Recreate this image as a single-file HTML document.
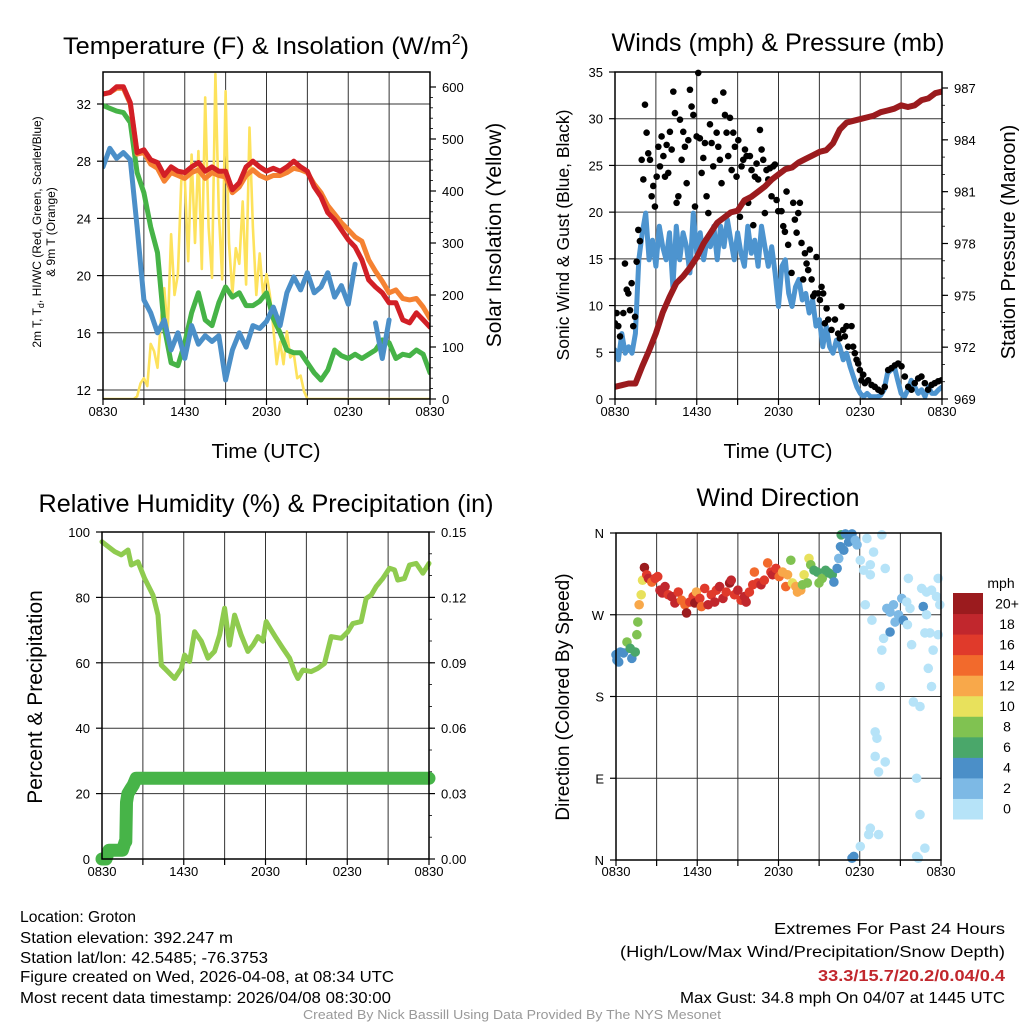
<!DOCTYPE html>
<html><head><meta charset="utf-8"><style>
html,body{margin:0;padding:0;background:#fff;}
svg{display:block;font-family:"Liberation Sans",Arial,sans-serif;}
</style></head><body>
<svg id="fig" width="1024" height="1024" viewBox="0 0 1024 1024" xmlns="http://www.w3.org/2000/svg">
<rect width="1024" height="1024" fill="#fff"/>
<g id="layer"></g>
<text x="266" y="54" font-size="24" text-anchor="middle" textLength="406" lengthAdjust="spacingAndGlyphs">Temperature (F) &amp; Insolation (W/m<tspan dy="-10" font-size="15">2</tspan><tspan dy="10">)</tspan></text>
<text x="778" y="51" font-size="25" text-anchor="middle" textLength="333" lengthAdjust="spacingAndGlyphs">Winds (mph) &amp; Pressure (mb)</text>
<text x="266" y="512" font-size="25" text-anchor="middle" textLength="455" lengthAdjust="spacingAndGlyphs">Relative Humidity (%) &amp; Precipitation (in)</text>
<text x="778" y="506" font-size="25" text-anchor="middle" textLength="163" lengthAdjust="spacingAndGlyphs">Wind Direction</text>
<text x="266" y="458" font-size="20" text-anchor="middle" textLength="109" lengthAdjust="spacingAndGlyphs">Time (UTC)</text>
<text x="778" y="458" font-size="20" text-anchor="middle" textLength="109" lengthAdjust="spacingAndGlyphs">Time (UTC)</text>
<text transform="translate(41,232) rotate(-90)" font-size="12" text-anchor="middle">2m T, T<tspan dy="3" font-size="9">d</tspan><tspan dy="-3">, HI/WC (Red, Green, Scarlet/Blue)</tspan></text>
<text transform="translate(55,232) rotate(-90)" font-size="12" text-anchor="middle">&amp; 9m T (Orange)</text>
<text transform="translate(501,235) rotate(-90)" font-size="21" text-anchor="middle">Solar Insolation (Yellow)</text>
<text transform="translate(569,235) rotate(-90)" font-size="17.5" text-anchor="middle">Sonic Wind &amp; Gust (Blue, Black)</text>
<text transform="translate(1015,242) rotate(-90)" font-size="20" text-anchor="middle">Station Pressure (Maroon)</text>
<text transform="translate(42,697) rotate(-90)" font-size="21" text-anchor="middle">Percent &amp; Precipitation</text>
<text transform="translate(569,697) rotate(-90)" font-size="19" text-anchor="middle">Direction (Colored By Speed)</text>
<g font-size="16">
<text x="20" y="922" textLength="116" lengthAdjust="spacingAndGlyphs">Location: Groton</text>
<text x="20" y="943" textLength="213" lengthAdjust="spacingAndGlyphs">Station elevation: 392.247 m</text>
<text x="20" y="963" textLength="248" lengthAdjust="spacingAndGlyphs">Station lat/lon: 42.5485; -76.3753</text>
<text x="20" y="982" textLength="374" lengthAdjust="spacingAndGlyphs">Figure created on Wed, 2026-04-08, at 08:34 UTC</text>
<text x="20" y="1003" textLength="371" lengthAdjust="spacingAndGlyphs">Most recent data timestamp: 2026/04/08 08:30:00</text>
</g>
<g font-size="16">
<text x="774" y="934" textLength="231" lengthAdjust="spacingAndGlyphs">Extremes For Past 24 Hours</text>
<text x="620" y="957" textLength="385" lengthAdjust="spacingAndGlyphs">(High/Low/Max Wind/Precipitation/Snow Depth)</text>
<text x="818" y="981" textLength="187" lengthAdjust="spacingAndGlyphs" fill="#c1272d" font-weight="bold">33.3/15.7/20.2/0.04/0.4</text>
<text x="680" y="1003" textLength="325" lengthAdjust="spacingAndGlyphs">Max Gust: 34.8 mph On 04/07 at 1445 UTC</text>
</g>
<text x="303" y="1019" font-size="13" fill="#999" textLength="418" lengthAdjust="spacingAndGlyphs">Created By Nick Bassill Using Data Provided By The NYS Mesonet</text>
</svg>
<script>
// ---------- DATA ----------
const timeTickLabels = ["0830","1430","2030","0230","0830"];
const tempTicks = [12,16,20,24,28,32];
const solarTicks = [0,100,200,300,400,500,600];
const windTicks = [0,5,10,15,20,25,30,35];
const pressureTicks = [969,972,975,978,981,984,987];
const rhTicks = [0,20,40,60,80,100];
const precipTicks = ["0.00","0.03","0.06","0.09","0.12","0.15"];
const dirTickLabels = ["N","W","S","E","N"];
const speedBinLabels = ["0","2","4","6","8","10","12","14","16","18","20+"];
const speedBinColors = ["#b6e3f8","#7db9e5","#4b8fc8","#4aa76a","#80c251","#e8e15c","#f8a84a","#f26a2c","#e03a2b","#c1272d","#9b1b1e"];

const tempRed = [32.7,32.8,33.2,33.2,32.1,28.6,28.8,28.1,27.9,27.0,27.6,27.3,27.2,27.6,27.9,27.3,27.6,27.3,27.3,26.0,26.5,27.6,28.0,27.6,27.3,27.5,27.3,27.6,28.0,27.6,27.3,26.2,25.5,24.4,23.9,23.2,22.5,22.0,21.1,19.7,19.2,18.8,18.1,18.1,16.9,16.7,17.4,16.9,16.4];
const tempOrange = [32.7,32.8,33.1,33.1,32.0,28.5,28.6,27.8,27.5,26.6,27.2,27.0,26.8,27.2,27.4,26.8,27.2,27.0,26.9,25.8,26.2,27.0,27.4,27.0,26.8,27.0,27.0,27.2,27.5,27.4,27.2,26.4,25.8,24.9,24.3,23.7,23.2,22.7,22.4,21.1,20.3,19.6,18.8,19.0,18.4,18.3,18.4,17.8,17.0];
const dewGreen = [31.9,31.7,31.5,31.4,30.7,27.2,25.8,23.4,21.6,16.4,13.9,13.7,15.3,17.4,18.8,16.9,16.5,18.1,19.2,18.5,18.8,17.9,17.9,18.2,18.8,17.0,16.0,14.8,14.6,14.6,13.9,13.2,12.7,13.4,14.8,14.4,14.2,14.5,14.2,14.5,14.8,15.5,15.3,14.2,14.5,14.4,14.8,14.5,13.2];
const windChillBlue = [27.6,28.9,28.2,28.6,28.1,23.4,18.3,17.4,16.0,16.9,14.8,16.0,14.2,16.5,15.2,15.8,15.4,15.8,12.7,14.8,16.0,15.0,16.5,16.3,16.8,17.8,16.5,18.8,19.9,19.0,20.2,18.8,19.2,20.2,18.5,19.3,18.0,20.8,null,null,16.7,14.2,16.9,null,null,null,null,null,null];
const solarYellow = [0,0,0,0,0,0,0,0,0,0,5,30,40,25,106,92,60,150,213,130,317,200,240,420,425,265,470,300,477,250,580,330,233,625,360,230,592,300,202,290,260,380,220,522,330,200,280,200,240,200,137,67,110,67,130,80,87,40,45,15,0,0,0,0,0,0,0,0,0,0,0,0,0,0,0,0,0,0,0,0,0,0,0,0,0,0,0,0,0,0,0,0,0,0,0,0,0];

const windBlue = [5.25,4.2,7.0,4.9,5.6,4.9,7.0,14.9,17.8,19.9,14.9,17.0,14.2,18.5,16.3,14.9,17.8,12.0,18.5,14.9,17.8,16.3,13.5,19.9,15.6,17.8,14.9,17.0,16.3,18.5,14.9,18.5,16.3,19.2,17.0,14.9,17.8,15.6,14.2,18.5,15.6,17.0,14.2,18.5,16.3,14.2,16.3,13.5,9.9,14.2,14.9,11.3,9.9,12.0,12.8,10.6,11.3,9.2,10.6,7.8,8.5,5.6,7.8,5.6,4.9,6.3,5.6,4.2,4.9,3.5,2.4,1.3,0.6,0.25,0.6,0.25,0.25,0.25,0.4,1.0,2.75,3.1,3.5,2.0,0.6,0.25,1.0,2.0,1.3,0.6,1.0,0.25,1.3,0.6,0.6,1.0,1.3];
const gustHours = [0,0.12,0.24,0.37,0.61,0.73,0.86,0.98,1.10,1.22,1.34,1.47,1.59,1.71,1.83,1.96,2.08,2.20,2.32,2.44,2.57,2.69,2.81,2.93,3.06,3.18,3.30,3.42,3.55,3.67,3.79,3.91,4.03,4.16,4.28,4.40,4.52,4.65,4.77,4.89,5.01,5.13,5.26,5.38,5.50,5.62,5.75,5.87,5.99,6.11,6.23,6.36,6.48,6.60,6.72,6.85,6.97,7.09,7.21,7.33,7.46,7.58,7.70,7.82,7.95,8.07,8.19,8.31,8.44,8.56,8.68,8.80,8.92,9.05,9.17,9.29,9.41,9.54,9.66,9.78,9.90,10.02,10.15,10.27,10.39,10.51,10.64,10.76,10.88,11.00,11.12,11.25,11.37,11.49,11.61,11.74,11.86,11.98,12.22,12.35,12.47,12.59,12.71,12.96,13.08,13.20,13.33,13.45,13.57,13.69,13.81,13.94,14.06,14.18,14.30,14.43,14.55,14.67,14.79,14.91,15.04,15.16,15.28,15.40,15.53,15.65,15.89,16.14,16.38,16.50,16.63,16.75,16.87,16.99,17.11,17.36,17.48,17.60,17.73,17.85,17.97,18.09,18.22,18.34,18.58,18.83,19.07,19.32,19.56,19.80,20.05,20.29,20.54,20.78,21.03,21.27,21.52,21.76,22.00,22.25,22.49,22.74,22.98,23.23,23.47,23.72,23.96];
const gustValues = [8.1,9.2,7.8,6.7,9.2,14.5,11.7,11.3,9.5,12.4,7.8,8.8,14.7,18.1,16.9,25.6,23.5,31.5,28.5,26.3,25.6,21.7,22.8,20.6,23.8,27,24.9,28.1,26,23.8,27.2,24.2,28.6,26.7,32.9,30.6,21,21.7,29.9,25.6,28.6,27,23.1,27.7,33.1,31.3,30.4,20.6,28.1,34.9,27.9,24.2,25.8,27.4,21.7,19.9,29.4,27.4,24.9,31.9,28.5,27,25.6,23.1,32.8,30.4,28.5,26,30.1,24.5,28.5,27,23.8,27.7,19.5,24.9,25.6,26.7,26,21,26,24.5,18.6,23.8,25.2,23.5,28.8,26.7,25.6,19.9,24.5,23.5,24.7,21.7,24.9,25.1,21.3,20.1,20.1,18.5,17.9,22.2,16.5,13.5,21,19.2,17.8,19.9,21,16.7,12.8,15.6,14.5,13.8,16,12.8,11,11.3,15.2,11.3,10.6,12,11.3,8.1,9.7,8.5,7.4,8.5,7,6.5,9.9,7.4,6.7,7.8,5.6,7.8,5.6,4.9,4.2,3.8,3.1,2,2.6,1.7,2,1.5,1.3,1,0.8,1.3,3.1,3.3,3.6,3.8,3.5,2.4,1.3,1,1.7,2.2,2.4,1.7,1,1.5,1.7,1.9,2];
const pressureMaroon = [969.7,969.8,969.9,969.9,970.9,971.8,972.8,974.0,974.9,975.7,976.1,976.6,977.2,978.0,978.6,979.2,979.5,979.8,979.9,980.5,980.7,981.0,981.3,981.7,982.0,982.3,982.4,982.7,982.9,983.1,983.3,983.4,983.8,984.6,985.0,985.1,985.2,985.3,985.4,985.6,985.7,985.8,986.0,985.9,986.0,986.3,986.4,986.7,986.8];

const rhHours = [0,0.93,1.42,1.91,2.15,2.64,3.13,3.74,4.11,4.35,4.60,5.33,5.82,6.06,6.43,6.80,7.29,7.78,8.26,8.63,9.00,9.36,9.73,10.22,10.71,11.08,11.44,11.81,12.05,12.42,12.79,13.28,13.77,14.13,14.38,14.74,15.35,15.84,16.33,16.82,17.56,18.04,18.41,19.02,19.39,19.76,20.12,20.61,21.10,21.47,21.71,22.20,22.57,23.06,23.55,24];
const rhValues = [97.0,94.0,93.0,94.5,89.9,90.9,85.8,80.7,74.6,59.3,58.3,55.2,58.3,62.4,60.4,69.5,66.6,61.4,63.5,68.5,76.7,65.4,74.6,68.5,63.5,65.4,68.0,66.6,72.6,70.0,67.5,64.4,61.4,57.3,55.2,57.8,57.3,58.3,59.8,68.0,67.5,69.5,72.0,72.6,79.7,80.7,83.3,85.8,88.9,88.4,85.3,85.8,89.9,90.4,87.4,90.4];
const precipHours = [0,0.3,0.5,1.0,1.5,1.7,1.75,1.8,1.9,2.1,2.3,2.5,24];
const precipValues = [0,0,0.004,0.004,0.004,0.008,0.008,0.026,0.030,0.032,0.034,0.037,0.037];

const dirHours = [0,0.07,0.20,0.32,0.56,0.81,1.05,1.17,1.42,1.54,1.61,1.71,1.86,1.96,2.10,2.27,2.40,2.64,2.89,3.08,3.25,3.42,3.62,3.86,4.11,4.35,4.60,4.84,5.09,5.21,5.45,5.70,5.82,5.94,6.19,6.31,6.55,6.80,7.04,7.29,7.41,7.65,7.90,8.14,8.39,8.51,8.75,9.00,9.24,9.49,9.61,9.85,10.10,10.22,10.46,10.71,10.95,11.20,11.44,11.56,11.81,12.05,12.30,12.54,12.67,12.91,13.03,13.28,13.40,13.64,13.77,13.89,14.13,14.25,14.38,14.62,14.87,14.99,15.23,15.48,15.72,15.97,16.09,16.33,16.45,16.58,16.63,16.82,16.94,17.18,17.43,17.67,17.80,18.04,18.29,18.41,18.53,18.78,18.90,19.02,18.78,19.63,19.88,19.76,19.63,19.51,19.14,19.27,19.14,19.39,19.88,18.78,18.66,19.39,18.04,17.56,17.43,20.00,20.24,20.49,20.61,20.86,20.24,21.10,21.22,21.47,21.71,21.59,21.52,21.83,22.69,22.93,22.57,22.93,23.30,23.67,23.79,23.91,22.81,23.18,23.79,23.42,23.06,23.30,21.96,22.45,22.20,22.45,22.81,22.20,22.32];
const dirDegrees = [226,220,218,229,228,240,233,222,229,248,262,281,292,308,322,314,310,306,310,312,297,294,301,292,290,283,295,286,281,272,284,290,283,295,288,279,299,281,292,284,297,301,288,295,305,308,292,297,286,290,284,295,303,317,305,303,308,327,317,314,321,312,317,301,314,330,305,301,295,297,303,314,305,332,325,319,317,305,310,319,316,314,306,321,332,345,358,341,359,350,359,352,347,330,319,281,354,325,264,339,314,358,321,244,231,191,141,134,114,97,108,35,28,28,15,4,2,277,273,281,262,270,251,288,264,284,277,310,259,237,279,270,299,295,297,290,310,281,250,250,248,231,211,191,174,169,90,50,13,4,2];
const dirSpeeds = [4,4,4,4,4,8,6,4,6,8,8,12,10,10,20,16,18,14,16,16,18,18,18,16,18,18,16,14,14,20,16,16,20,12,16,14,16,18,16,18,16,18,18,16,20,18,16,18,16,18,18,16,16,14,16,18,16,14,16,18,16,14,12,14,12,8,10,12,12,12,8,10,8,10,8,6,6,8,8,6,6,6,4,4,2,4,6,4,4,4,4,2,2,0,0,0,0,0,0,0,0,0,0,0,0,0,0,0,0,0,0,0,0,0,0,4,4,2,2,2,2,2,4,2,4,0,0,0,0,0,4,0,0,0,0,0,0,0,0,0,0,0,0,0,0,0,0,0,0,0,0];

// ---------- HELPERS ----------
const NS = "http://www.w3.org/2000/svg";
const layer = document.getElementById("layer");
function mk(tag, attrs, parent) {
  const e = document.createElementNS(NS, tag);
  for (const k in attrs) e.setAttribute(k, attrs[k]);
  (parent || layer).appendChild(e);
  return e;
}
function linScale(d0, d1, r0, r1) { return v => r0 + (v - d0) * (r1 - r0) / (d1 - d0); }
function pathFrom(xs, ys, xf, yf) {
  let d = "", pen = false;
  for (let i = 0; i < xs.length; i++) {
    if (ys[i] === null || ys[i] === undefined) { pen = false; continue; }
    d += (pen ? "L" : "M") + xf(xs[i]).toFixed(1) + "," + yf(ys[i]).toFixed(1);
    pen = true;
  }
  return d;
}
function idxHours(arr) { return arr.map((_, i) => i * 24 / (arr.length - 1)); }

const panels = {
  temp: {L:103, R:430, T:72, B:399},
  wind: {L:615, R:942, T:72, B:399},
  rh:   {L:102, R:429, T:532, B:859},
  dir:  {L:616, R:941, T:533, B:860}
};

function timeAxis(p, name, labelY, grid) {
  const x = linScale(0, 24, p.L, p.R);
  for (let h = 0; h <= 24; h += 3) {
    if (grid && h > 0 && h < 24) {
      const g = mk("line", {x1:x(h), x2:x(h), y1:p.T, y2:p.B, stroke:"#333", "stroke-width":1});
      
      
    }
    const t = mk("line", {x1:x(h), x2:x(h), y1:p.B, y2:p.B + 6, stroke:"#000", "stroke-width":1.2});
    
    
  }
  timeTickLabels.forEach((lab, i) => {
    const tx = mk("text", {x:x(i * 6), y:labelY, "font-size":13, "text-anchor":"middle"});
    tx.textContent = lab;
    
    
  });
  return x;
}
function frame(p, name) {
  const r = mk("rect", {x:p.L, y:p.T, width:p.R - p.L, height:p.B - p.T, fill:"none", stroke:"#000", "stroke-width":1.5});
  
  
}
function leftAxis(p, name, ticks, yf, labels, grid) {
  ticks.forEach((v, i) => {
    const y = yf(v);
    if (grid) {
      const g = mk("line", {x1:p.L, x2:p.R, y1:y, y2:y, stroke:"#333", "stroke-width":1});
      
      
    }
    const t = mk("line", {x1:p.L - 6, x2:p.L, y1:y, y2:y, stroke:"#000", "stroke-width":1.2});
    
    
    const tx = mk("text", {x:p.L - 12, y:y + 5, "font-size":13, "text-anchor":"end"});
    tx.textContent = labels ? labels[i] : String(v);
    
    
  });
}
function rightAxis(p, name, ticks, yf, labels, minorStep) {
  if (minorStep) {
    const lo = parseFloat(ticks[0]), hi = parseFloat(ticks[ticks.length - 1]);
    for (let v = lo; v <= hi + 1e-9; v += minorStep) {
      const m = mk("line", {x1:p.R, x2:p.R + 3, y1:yf(v), y2:yf(v), stroke:"#000", "stroke-width":0.8});
      
      
    }
  }
  ticks.forEach((v, i) => {
    const y = yf(parseFloat(v));
    const t = mk("line", {x1:p.R, x2:p.R + 6, y1:y, y2:y, stroke:"#000", "stroke-width":1.2});
    
    
    const tx = mk("text", {x:p.R + 12, y:y + 5, "font-size":13, "text-anchor":"start"});
    tx.textContent = labels ? labels[i] : String(v);
    
    
  });
}

// ---------- PANEL 1: TEMPERATURE ----------
(function () {
  const p = panels.temp;
  const x = timeAxis(p, "temp", 416, true);
  const y = linScale(12, 32, 390, 104);
  const ys = linScale(0, 600, 399, 87);
  leftAxis(p, "temp", tempTicks, y, null, true);
  rightAxis(p, "solar", solarTicks, ys, null, 20);
  const clip = mk("clipPath", {id:"c1"}); mk("rect", {x:p.L, y:p.T, width:p.R - p.L, height:p.B - p.T}, clip);
  const g = mk("g", {"clip-path":"url(#c1)"});
  
  
  const s1 = mk("path", {d:pathFrom(idxHours(solarYellow), solarYellow, x, ys), fill:"none", stroke:"#fde25c", "stroke-width":2.6, "stroke-linejoin":"round"}, g);
  
  
  const s2 = mk("path", {d:pathFrom(idxHours(dewGreen), dewGreen, x, y), fill:"none", stroke:"#46b347", "stroke-width":5, "stroke-linejoin":"round", "stroke-linecap":"round"}, g);
  
  
  const s3 = mk("path", {d:pathFrom(idxHours(windChillBlue), windChillBlue, x, y), fill:"none", stroke:"#4b8fc8", "stroke-width":5, "stroke-linejoin":"round", "stroke-linecap":"round"}, g);
  
  
  const s4 = mk("path", {d:pathFrom(idxHours(tempOrange), tempOrange, x, y), fill:"none", stroke:"#f58232", "stroke-width":5, "stroke-linejoin":"round", "stroke-linecap":"round"}, g);
  
  
  const s5 = mk("path", {d:pathFrom(idxHours(tempRed), tempRed, x, y), fill:"none", stroke:"#d21f26", "stroke-width":5, "stroke-linejoin":"round", "stroke-linecap":"round"}, g);
  
  
  frame(p, "temp");
})();

// ---------- PANEL 2: WIND & PRESSURE ----------
(function () {
  const p = panels.wind;
  const x = timeAxis(p, "wind", 416, true);
  const y = linScale(0, 35, 399, 72);
  const yp = linScale(969, 987, 399, 88);
  leftAxis(p, "wind", windTicks, y, null, true);
  rightAxis(p, "pressure", pressureTicks, yp, null, 1);
  const clip = mk("clipPath", {id:"c2"}); mk("rect", {x:p.L, y:p.T - 4, width:p.R - p.L, height:p.B - p.T + 4}, clip);
  const g = mk("g", {"clip-path":"url(#c2)"});
  
  
  const w = mk("path", {d:pathFrom(idxHours(windBlue), windBlue, x, y), fill:"none", stroke:"#4d94cf", "stroke-width":5, "stroke-linejoin":"round", "stroke-linecap":"round"}, g);
  
  
  const n = Math.min(gustHours.length, gustValues.length);
  for (let i = 0; i < n; i++) {
    const c = mk("circle", {cx:x(gustHours[i]), cy:y(gustValues[i]), r:3.3, fill:"#000"}, g);
    
    
  }
  const pr = mk("path", {d:pathFrom(idxHours(pressureMaroon), pressureMaroon, x, yp), fill:"none", stroke:"#9b1b1e", "stroke-width":6, "stroke-linejoin":"round", "stroke-linecap":"round"}, g);
  
  
  frame(p, "wind");
})();

// ---------- PANEL 3: RH & PRECIP ----------
(function () {
  const p = panels.rh;
  const x = timeAxis(p, "rh", 876, true);
  const y = linScale(0, 100, 859, 532);
  const yq = linScale(0, 0.15, 859, 532);
  leftAxis(p, "rh", rhTicks, y, null, true);
  rightAxis(p, "precip", precipTicks, yq, null, 0.01);
  const g = mk("g", {});
  
  
  const r = mk("path", {d:pathFrom(rhHours, rhValues, x, y), fill:"none", stroke:"#8fcb4f", "stroke-width":5, "stroke-linejoin":"round", "stroke-linecap":"round"}, g);
  
  
  const q = mk("path", {d:pathFrom(precipHours, precipValues, x, yq), fill:"none", stroke:"#47b448", "stroke-width":13, "stroke-linejoin":"round", "stroke-linecap":"round"}, g);
  
  
  frame(p, "rh");
})();

// ---------- PANEL 4: WIND DIRECTION ----------
(function () {
  const p = panels.dir;
  const x = timeAxis(p, "dir", 876, true);
  const y = linScale(0, 360, 860, 533);
  leftAxis(p, "dir", [360,270,180,90,0], y, dirTickLabels, true);
  const g = mk("g", {});
  
  
  const n = Math.min(dirHours.length, dirDegrees.length, dirSpeeds.length);
  for (let i = 0; i < n; i++) {
    const bin = Math.min(10, Math.floor(dirSpeeds[i] / 2));
    const c = mk("circle", {cx:x(dirHours[i]), cy:y(dirDegrees[i]), r:4.8, fill:speedBinColors[bin]}, g);
    
    
  }
  frame(p, "dir");
  const cbTop = 593, cbBottom = 819, cbX = 953, cbW = 30;
  const bh = (cbBottom - cbTop) / speedBinColors.length;
  const cap = mk("text", {x:1001, y:588, "font-size":14, "text-anchor":"middle"});
  cap.textContent = "mph";
  
  
  for (let k = 0; k < speedBinColors.length; k++) {
    const top = cbBottom - (k + 1) * bh;
    const rc = mk("rect", {x:cbX, y:top, width:cbW, height:bh + 0.5, fill:speedBinColors[k]});
    
    
    const tx = mk("text", {x:1007, y:top + bh / 2 + 5, "font-size":14, "text-anchor":"middle"});
    tx.textContent = speedBinLabels[k];
    
    
  }
})();
</script>
</body></html>
